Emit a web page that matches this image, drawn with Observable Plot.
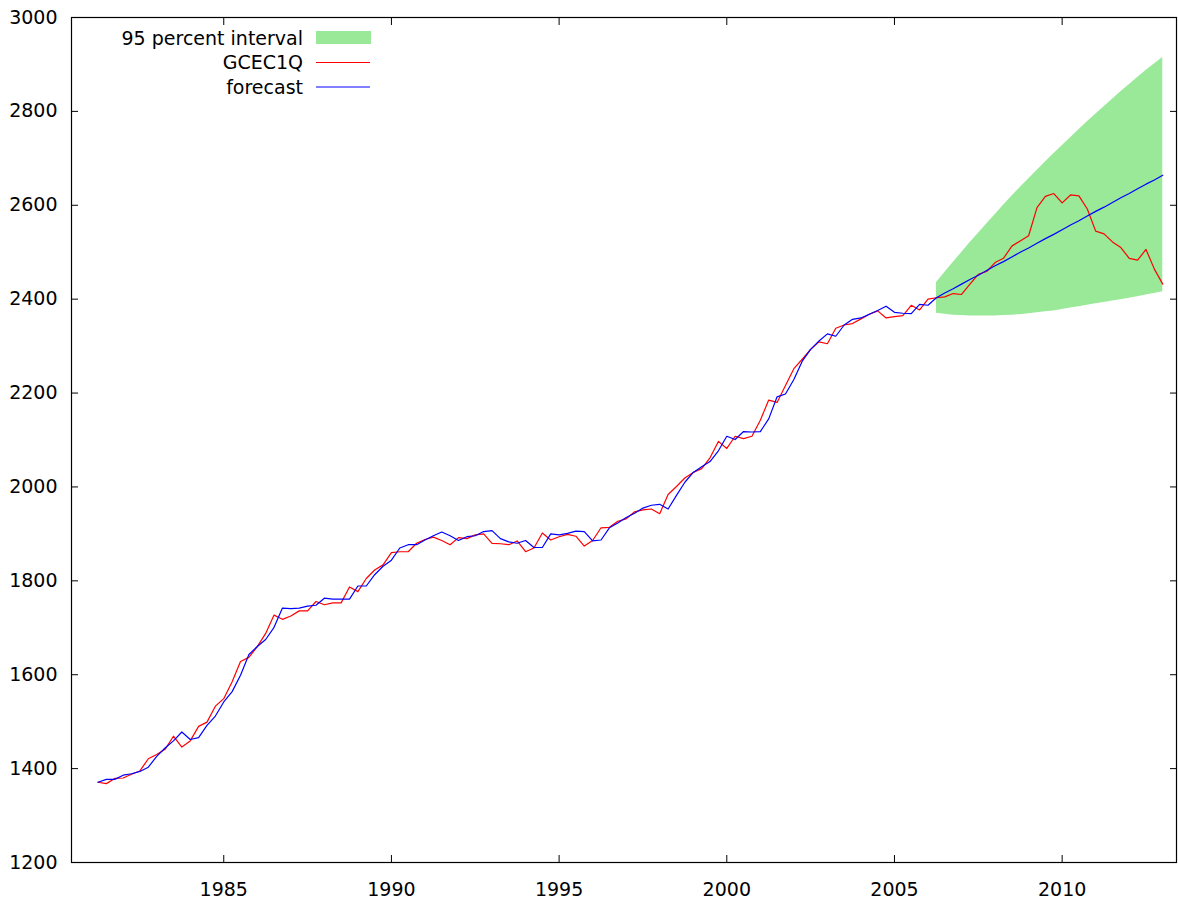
<!DOCTYPE html>
<html><head><meta charset="utf-8">
<script src="https://cdn.jsdelivr.net/npm/d3@7"></script>
<script src="https://cdn.jsdelivr.net/npm/@observablehq/plot@0.6"></script>
<style>body{margin:0;background:#fff}#chart{width:1178px;height:901px}</style>
</head><body><div id="chart"></div>
<script>
// Quarterly observations 1981:1 .. 2012:4 (plotted at year + quarter/4)
const startPeriod = 1981.25;
const gcec1q = [
 1371,1368,1379,1380,1388,1395,1421,1430,1441,1469,
 1446,1459,1490,1499,1533,1549,1585,1628,1637,1660,
 1688,1727,1718,1725,1736,1736,1756,1749,1753,1753,
 1787,1777,1805,1823,1834,1860,1862,1862,1880,1888,
 1893,1886,1877,1892,1890,1898,1900,1880,1879,1877,
 1885,1862,1870,1902,1887,1894,1899,1895,1874,1886,
 1913,1914,1927,1932,1947,1951,1953,1943,1984,2001,
 2019,2031,2039,2062,2097,2082,2108,2103,2108,2142,
 2185,2180,2216,2252,2272,2293,2309,2305,2338,2345,
 2348,2358,2368,2375,2360,2363,2365,2387,2377,2400,
 2403,2405,2412,2410,2432,2453,2459,2478,2487,2513,
 2524,2535,2595,2619,2625,2605,2622,2620,2592,2545,
 2539,2522,2510,2487,2483,2506,2464,2432];
const forecast = [
 1371,1377,1377,1386,1389,1394,1403,1426,1444,1459,
 1478,1462,1466,1492,1512,1542,1564,1599,1643,1660,
 1675,1701,1742,1741,1742,1746,1748,1763,1761,1761,
 1761,1789,1789,1813,1831,1844,1870,1877,1877,1887,
 1896,1904,1896,1886,1894,1896,1905,1907,1890,1883,
 1880,1886,1871,1871,1900,1898,1901,1906,1905,1885,
 1887,1913,1923,1935,1944,1955,1961,1963,1953,1982,
 2010,2031,2043,2054,2077,2108,2101,2118,2117,2118,
 2145,2192,2198,2229,2268,2293,2311,2326,2321,2345,
 2357,2360,2368,2376,2385,2372,2370,2369,2389,2387,
 2403,2413,2422,2432,2442,2451,2461,2471,2480,2490,
 2500,2509,2519,2529,2538,2548,2558,2567,2577,2587,
 2596,2606,2616,2625,2635,2645,2654,2664];
// 95 percent interval, 2006:1 .. 2012:4
const intervalStartIndex = 100;
const intervalLower = [
 2370,2368,2366,2365,2364,2364,2364,2364,2365,2366,
 2367,2369,2371,2373,2375,2378,2381,2384,2387,2390,
 2393,2396,2399,2402,2405,2409,2412,2416];
const intervalUpper = [
 2435,2457,2478,2499,2520,2540,2560,2580,2600,2619,
 2638,2656,2674,2692,2710,2727,2744,2761,2778,2794,
 2810,2826,2842,2857,2872,2887,2901,2915];
const xTicks = [1985, 1990, 1995, 2000, 2005, 2010];
const yTicks = [1200, 1400, 1600, 1800, 2000, 2200, 2400, 2600, 2800, 3000];
const legendLabels = ["95 percent interval", "GCEC1Q", "forecast"];
const colors = {band: "#99e999", actual: "#ff0000", forecast: "#0000ff"};

const periodOf = i => startPeriod + i / 4;
const actualData = gcec1q.map((v, i) => ({t: periodOf(i), v}));
const forecastData = forecast.map((v, i) => ({t: periodOf(i), v}));
const bandData = intervalLower.map((lo, k) => ({t: periodOf(intervalStartIndex + k), lo, hi: intervalUpper[k]}));

const font = "DejaVu Sans, Verdana, sans-serif";
const plot = Plot.plot({
  width: 1178, height: 901,
  marginLeft: 71, marginRight: 2, marginTop: 17, marginBottom: 39,
  x: {domain: [1980.46, 2013.41]},
  y: {domain: [1200, 3000]},
  style: {fontFamily: font, fontSize: "19px", color: "black", background: "white"},
  marks: [
    Plot.areaY(bandData, {x: "t", y1: "lo", y2: "hi", fill: colors.band, fillOpacity: 1}),
    Plot.line(actualData, {x: "t", y: "v", stroke: colors.actual, strokeWidth: 1.2}),
    Plot.line(forecastData, {x: "t", y: "v", stroke: colors.forecast, strokeWidth: 1.2}),
    Plot.frame({stroke: "black", strokeWidth: 1.2}),
    Plot.axisX({ticks: xTicks, tickSize: -7, tickPadding: 27, tickFormat: d => String(d), label: null, fontSize: 19}),
    Plot.axisX({anchor: "top", ticks: xTicks, tickSize: -7, tickFormat: () => "", label: null}),
    Plot.axisY({ticks: yTicks, tickSize: -7, tickPadding: 21, tickFormat: d => String(d), label: null, fontSize: 19}),
    Plot.axisY({anchor: "right", ticks: yTicks, tickSize: -7, tickFormat: () => "", label: null})
  ]
});
document.getElementById("chart").appendChild(plot);

// legend (gnuplot-style key, top-left inside the frame)
const svg = d3.select(plot);
const key = svg.append("g").attr("font-family", font).attr("font-size", 19).attr("fill", "black");
const rowY = [38, 62.5, 87];
legendLabels.forEach((lab, k) => {
  key.append("text").attr("x", 303).attr("y", rowY[k]).attr("dy", "0.35em")
     .attr("text-anchor", "end").text(lab);
  if (k === 0) {
    key.append("rect").attr("x", 316).attr("y", rowY[k] - 7).attr("width", 55).attr("height", 13).attr("fill", colors.band);
  } else {
    key.append("line").attr("x1", 316).attr("x2", 370).attr("y1", rowY[k]).attr("y2", rowY[k])
       .attr("stroke", k === 1 ? colors.actual : colors.forecast).attr("stroke-width", 1.2);
  }
});
</script>
</body></html>
